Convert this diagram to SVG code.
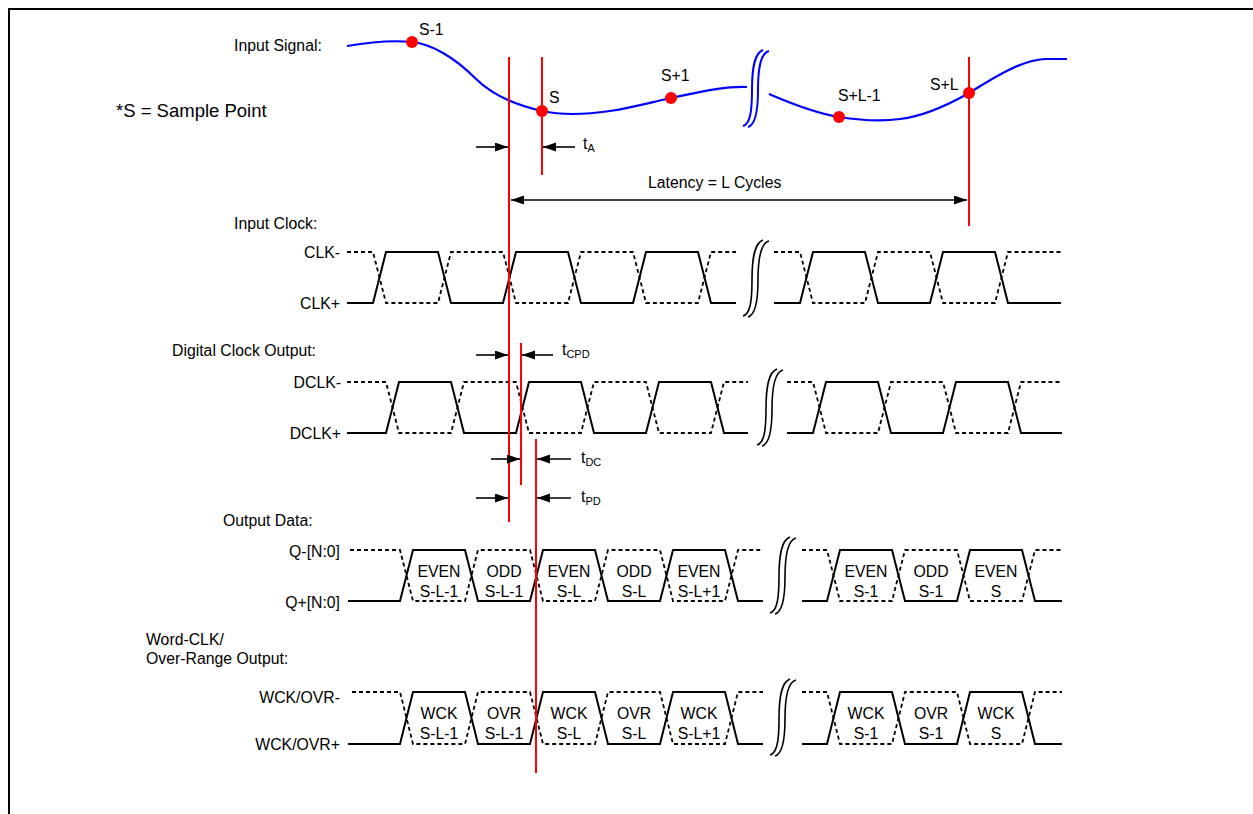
<svg xmlns="http://www.w3.org/2000/svg" width="1253" height="814" viewBox="0 0 1253 814">
<style>
text{font-family:"Liberation Sans",Arial,sans-serif;font-size:15.8px;fill:#000}
.big{font-size:18.5px}
.sub{font-size:11px}
.mid{text-anchor:middle}
.end{text-anchor:end}
.sol{fill:none;stroke:#000;stroke-width:2;stroke-linejoin:miter}
.dsh{fill:none;stroke:#000;stroke-width:1.8;stroke-dasharray:4 3}
.red{stroke:#ff0000;stroke-width:2;fill:none}
.blue{fill:none;stroke:#0000ff;stroke-width:2.2}
.arr{stroke:#000;stroke-width:1.6;fill:none;marker-end:url(#ah)}
.dot{fill:#ff0000}
.brk{fill:none;stroke:#000;stroke-width:1.6}
</style>
<defs>
<marker id="ah" markerUnits="userSpaceOnUse" markerWidth="14" markerHeight="10" refX="13" refY="4.5" orient="auto-start-reverse">
<path d="M0,0 L13,4.5 L0,9 z" fill="#000"/>
</marker>
<g id="brkmark">
<path d="M0,76 C7,74 9,62 9,40 C9,16 12,3 20,0"/>
<path d="M5,77 C12,75 15,62 15,40 C15,16 18,3 26,1"/>
</g>
</defs>
<rect width="1253" height="814" fill="#fff"/>
<path d="M9,814 L9,9 L1253,9" fill="none" stroke="#000" stroke-width="2"/>

<g id="input-signal">
<text x="234" y="51">Input Signal:</text>
<text class="big" x="116" y="117">*S = Sample Point</text>
<path class="blue" d="M347,46 C370,42 392,40 412,42 C432,44 455,58 475,78 C492,95 515,105 542,111 C565,116 590,114 610,111 C635,107 652,102 671,98 C700,92 725,86 747,87"/>
<path class="blue" d="M769,94 C792,104 815,113 839,117 C858,120 880,122 900,119 C925,116 948,105 969,93 C990,80 1020,60 1045,59 L1067,59"/>
<use href="#brkmark" transform="translate(743,50)" class="brk" style="stroke:#0000ff;stroke-width:2"/>
<circle class="dot" cx="412" cy="42" r="6"/>
<circle class="dot" cx="542" cy="111" r="6"/>
<circle class="dot" cx="671" cy="98" r="6"/>
<circle class="dot" cx="839" cy="117" r="6"/>
<circle class="dot" cx="969" cy="93" r="6"/>
<text x="419" y="35">S-1</text>
<text x="549" y="103">S</text>
<text x="661" y="81">S+1</text>
<text x="838" y="101">S+L-1</text>
<text x="930" y="90">S+L</text>
</g>

<g id="input-clock">
<text x="234" y="229">Input Clock:</text>
<text class="end" x="340" y="258">CLK-</text>
<text class="end" x="340" y="309">CLK+</text>
<path class="dsh" d="M347,252 L373,252 L386,303 L438,303 L451,252 L503,252 L516,303 L568,303 L581,252 L633,252 L646,303 L698,303 L711,252 L736,252"/>
<path class="sol" d="M347,303 L373,303 L386,252 L438,252 L451,303 L503,303 L516,252 L568,252 L581,303 L633,303 L646,252 L698,252 L711,303 L736,303"/>
<path class="dsh" d="M774,252 L800,252 L813,303 L865,303 L878,252 L930,252 L943,303 L995,303 L1008,252 L1061,252"/>
<path class="sol" d="M774,303 L800,303 L813,252 L865,252 L878,303 L930,303 L943,252 L995,252 L1008,303 L1061,303"/>
<use href="#brkmark" transform="translate(743,240)" class="brk"/>
</g>

<g id="digital-clock">
<text x="172" y="356">Digital Clock Output:</text>
<text class="end" x="341" y="388">DCLK-</text>
<text class="end" x="341" y="439">DCLK+</text>
<path class="dsh" d="M347,382 L386,382 L399,433 L451,433 L464,382 L516,382 L529,433 L581,433 L594,382 L646,382 L659,433 L711,433 L724,382 L748,382"/>
<path class="sol" d="M347,433 L386,433 L399,382 L451,382 L464,433 L516,433 L529,382 L581,382 L594,433 L646,433 L659,382 L711,382 L724,433 L748,433"/>
<path class="dsh" d="M787,382 L813,382 L826,433 L878,433 L891,382 L943,382 L956,433 L1008,433 L1021,382 L1062,382"/>
<path class="sol" d="M787,433 L813,433 L826,382 L878,382 L891,433 L943,433 L956,382 L1008,382 L1021,433 L1062,433"/>
<use href="#brkmark" transform="translate(757,369)" class="brk"/>
</g>

<g id="output-data">
<text x="223" y="526">Output Data:</text>
<text class="end" x="340" y="557">Q-[N:0]</text>
<text class="end" x="340" y="608">Q+[N:0]</text>
<path class="dsh" d="M350,550 L400,550 L413,601 L465,601 L478,550 L530,550 L543,601 L595,601 L608,550 L660,550 L673,601 L725,601 L738,550 L763,550"/>
<path class="sol" d="M348,601 L400,601 L413,550 L465,550 L478,601 L530,601 L543,550 L595,550 L608,601 L660,601 L673,550 L725,550 L738,601 L763,601"/>
<path class="dsh" d="M802,550 L827,550 L840,601 L892,601 L905,550 L957,550 L970,601 L1022,601 L1035,550 L1062,550"/>
<path class="sol" d="M802,601 L827,601 L840,550 L892,550 L905,601 L957,601 L970,550 L1022,550 L1035,601 L1062,601"/>
<use href="#brkmark" transform="translate(770,537)" class="brk"/>
<text class="mid" x="439" y="577">EVEN</text><text class="mid" x="439" y="597">S-L-1</text>
<text class="mid" x="504" y="577">ODD</text><text class="mid" x="504" y="597">S-L-1</text>
<text class="mid" x="569" y="577">EVEN</text><text class="mid" x="569" y="597">S-L</text>
<text class="mid" x="634" y="577">ODD</text><text class="mid" x="634" y="597">S-L</text>
<text class="mid" x="699" y="577">EVEN</text><text class="mid" x="699" y="597">S-L+1</text>
<text class="mid" x="866" y="577">EVEN</text><text class="mid" x="866" y="597">S-1</text>
<text class="mid" x="931" y="577">ODD</text><text class="mid" x="931" y="597">S-1</text>
<text class="mid" x="996" y="577">EVEN</text><text class="mid" x="996" y="597">S</text>
</g>

<g id="wck-ovr">
<text x="146" y="645">Word-CLK/</text>
<text x="146" y="664">Over-Range Output:</text>
<text class="end" x="340" y="703">WCK/OVR-</text>
<text class="end" x="340" y="750">WCK/OVR+</text>
<path class="dsh" d="M352,692 L400,692 L413,744 L465,744 L478,692 L530,692 L543,744 L595,744 L608,692 L660,692 L673,744 L725,744 L738,692 L763,692"/>
<path class="sol" d="M348,744 L400,744 L413,692 L465,692 L478,744 L530,744 L543,692 L595,692 L608,744 L660,744 L673,692 L725,692 L738,744 L763,744"/>
<path class="dsh" d="M802,692 L827,692 L840,744 L892,744 L905,692 L957,692 L970,744 L1022,744 L1035,692 L1062,692"/>
<path class="sol" d="M802,744 L827,744 L840,692 L892,692 L905,744 L957,744 L970,692 L1022,692 L1035,744 L1062,744"/>
<use href="#brkmark" transform="translate(770,679)" class="brk"/>
<text class="mid" x="439" y="719">WCK</text><text class="mid" x="439" y="739">S-L-1</text>
<text class="mid" x="504" y="719">OVR</text><text class="mid" x="504" y="739">S-L-1</text>
<text class="mid" x="569" y="719">WCK</text><text class="mid" x="569" y="739">S-L</text>
<text class="mid" x="634" y="719">OVR</text><text class="mid" x="634" y="739">S-L</text>
<text class="mid" x="699" y="719">WCK</text><text class="mid" x="699" y="739">S-L+1</text>
<text class="mid" x="866" y="719">WCK</text><text class="mid" x="866" y="739">S-1</text>
<text class="mid" x="931" y="719">OVR</text><text class="mid" x="931" y="739">S-1</text>
<text class="mid" x="996" y="719">WCK</text><text class="mid" x="996" y="739">S</text>
</g>

<g id="timing-lines">
<line class="red" x1="509" y1="57" x2="509" y2="522"/>
<line class="red" x1="542" y1="57" x2="542" y2="175"/>
<line class="red" x1="969" y1="57" x2="969" y2="226"/>
<line class="red" x1="521" y1="343" x2="521" y2="485"/>
<line class="red" x1="536" y1="439" x2="536" y2="773"/>
</g>

<g id="connectors">
<line class="arr" x1="476" y1="147" x2="508" y2="147"/>
<line class="arr" x1="575" y1="147" x2="543" y2="147"/>
<line x1="511" y1="200" x2="967" y2="200" stroke="#000" stroke-width="1.4" marker-start="url(#ah)" marker-end="url(#ah)"/>
<line class="arr" x1="476" y1="355" x2="508" y2="355"/>
<line class="arr" x1="553" y1="355" x2="522" y2="355"/>
<line class="arr" x1="491" y1="459" x2="520" y2="459"/>
<line class="arr" x1="571" y1="459" x2="537" y2="459"/>
<line class="arr" x1="476" y1="498" x2="508" y2="498"/>
<line class="arr" x1="571" y1="498" x2="537" y2="498"/>
</g>

<g id="timing-labels">
<text x="648" y="188">Latency = L Cycles</text>
<text x="583" y="149">t<tspan class="sub" dy="3">A</tspan></text>
<text x="562" y="355">t<tspan class="sub" dy="3">CPD</tspan></text>
<text x="581" y="463">t<tspan class="sub" dy="3">DC</tspan></text>
<text x="581" y="502">t<tspan class="sub" dy="3">PD</tspan></text>
</g>
</svg>
